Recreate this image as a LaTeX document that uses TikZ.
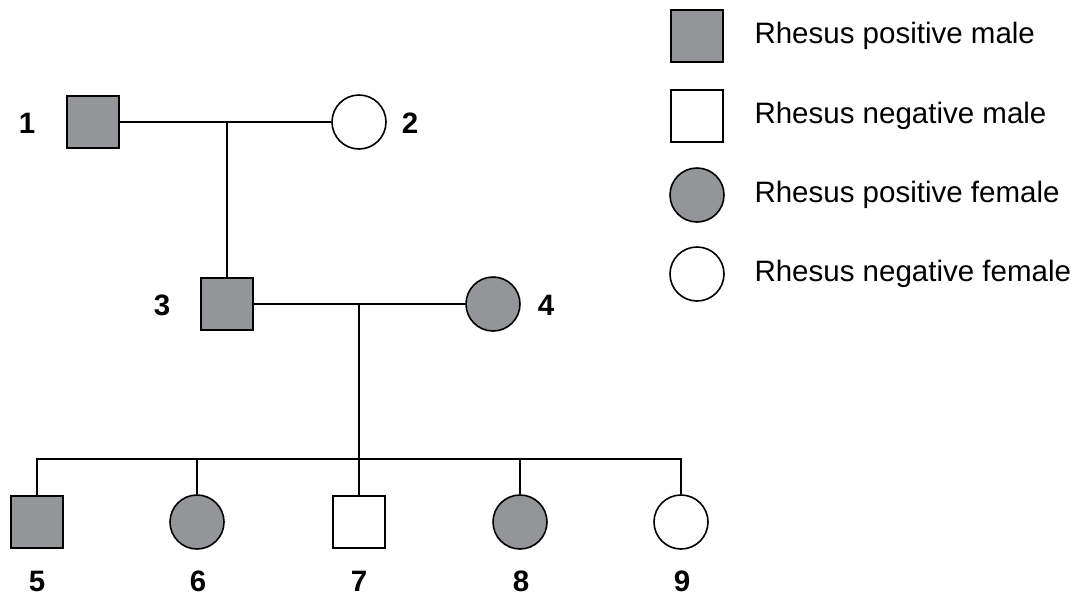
\documentclass[tikz,border=0pt]{standalone}
\usepackage{fontspec}
\setmainfont{Liberation Sans}
\definecolor{pgray}{HTML}{939598}
\begin{document}
\begin{tikzpicture}[x=1pt,y=-1pt,
  every node/.style={font=\fontsize{29.5}{32}\selectfont},
  male/.style={draw, line width=1.6pt, minimum size=52pt, inner sep=0pt, rectangle},
  female/.style={draw, line width=1.6pt, minimum size=54pt, inner sep=0pt, circle},
  rpos/.style={fill=pgray},
  rneg/.style={fill=white},
  num/.style={font=\fontsize{29.5}{32}\selectfont\bfseries},
  lnk/.style={line width=1.4pt}]
\useasboundingbox (0,0) rectangle (1073,603);
% generation I
\node[male,rpos] (p1) at (93,122) {};
\node[female,rneg] (p2) at (359,122) {};
\node[num] (l1) at (27,123) {1};
\node[num] (l2) at (410,123) {2};
% generation II
\node[male,rpos] (p3) at (227,304) {};
\node[female,rpos] (p4) at (493,304) {};
\node[num] (l3) at (162,305) {3};
\node[num] (l4) at (546,305) {4};
% generation III
\node[male,rpos] (p5) at (37,522) {};
\node[female,rpos] (p6) at (197,522) {};
\node[male,rneg] (p7) at (359,522) {};
\node[female,rpos] (p8) at (520,522) {};
\node[female,rneg] (p9) at (681,522) {};
\node[num] (l5) at (37,581) {5};
\node[num] (l6) at (198,581) {6};
\node[num] (l7) at (359,581) {7};
\node[num] (l8) at (521,581) {8};
\node[num] (l9) at (682,581) {9};
% connectors
\coordinate (m1) at (227,122);
\coordinate (m2) at (359,304);
\coordinate (sib) at (359,459);
\draw[lnk] (p1.east) -- (p2.west);
\draw[lnk] (m1) -- (p3.north);
\draw[lnk] (p3.east) -- (p4.west);
\draw[lnk] (m2) -- (sib);
\draw[lnk] (p5.north) |- (p9.north |- sib) -- (p9.north);
\draw[lnk] (p6.north) -- (p6.north |- sib);
\draw[lnk] (p7.north) -- (p7.north |- sib);
\draw[lnk] (p8.north) -- (p8.north |- sib);
% legend
\node[male,rpos] (k1) at (697,36) {};
\node[male,rneg] (k2) at (697,116) {};
\node[female,rpos] (k3) at (697,195) {};
\node[female,rneg] (k4) at (697,274) {};
\node[anchor=west] (t1) at (751,36) {Rhesus positive male};
\node[anchor=west] (t2) at (751,116) {Rhesus negative male};
\node[anchor=west] (t3) at (751,195) {Rhesus positive female};
\node[anchor=west] (t4) at (751,274) {Rhesus negative female};
\end{tikzpicture}
\end{document}
